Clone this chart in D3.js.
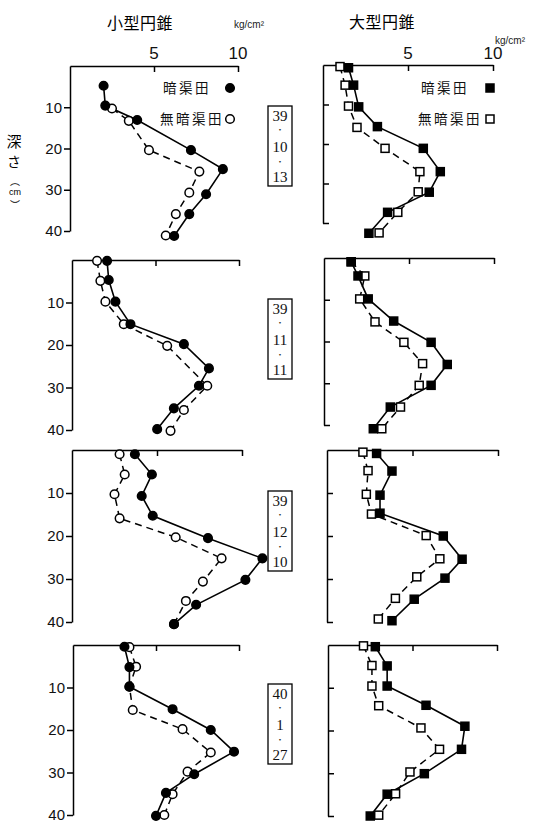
<!DOCTYPE html>
<html><head><meta charset="utf-8">
<script src="https://cdn.jsdelivr.net/npm/d3@7"></script>
<style>body{margin:0;background:#fff} svg{display:block}</style>
</head><body>
<svg id="c" width="543" height="826"></svg>
<script>
// ---------------- data ----------------
const columnTitles = ["小型円錐", "大型円錐"];
const unitLabel = "kg/cm²";
const seriesNames = ["暗渠田", "無暗渠田"];
const depthTicks = [10, 20, 30, 40];
const topTicks = [5, 10];
const topTickLabels = ["5", "10"];
const dateLabels = [["39", "10", "13"], ["39", "11", "11"], ["39", "12", "10"], ["40", "1", "27"]];
const yAxisLabel = ["深", "さ", "︵", "cm", "︶"];

// [value kg/cm², depth cm]
const small_1013_drained   = [[2.0,4.8],[2.1,9.6],[4.0,13.1],[7.2,20.4],[9.1,25.0],[8.1,31.1],[7.1,35.9],[6.2,41.2]];
const small_1013_undrained = [[2.5,10.3],[3.5,13.3],[4.7,20.4],[7.7,25.6],[7.1,30.7],[6.3,35.9],[5.7,41.1]];
const large_1013_drained   = [[1.5,0.7],[1.8,5.1],[2.1,10.6],[3.2,15.6],[5.9,21.1],[6.9,27.0],[6.25,32.2],[3.8,37.3],[2.7,42.6]];
const large_1013_undrained = [[1.0,0.4],[1.3,5.1],[1.5,10.4],[2.0,15.8],[3.65,21.1],[5.7,27.0],[5.6,32.1],[4.4,37.3],[3.3,42.5]];

const small_1111_drained   = [[2.1,0.2],[2.2,4.7],[2.6,9.8],[3.5,15.1],[6.7,19.8],[8.2,25.5],[7.6,29.6],[6.1,34.9],[5.1,39.8]];
const small_1111_undrained = [[1.5,0.2],[1.7,4.9],[2.0,9.8],[3.1,15.1],[5.7,20.2],[8.1,29.6],[6.7,35.3],[5.9,40.2]];
const large_1111_drained   = [[1.6,0.9],[2.0,4.3],[2.6,9.8],[4.1,15.1],[6.3,20.2],[7.25,25.5],[6.3,30.5],[3.9,35.7],[2.9,40.9]];
const large_1111_undrained = [[1.6,0.9],[2.4,4.3],[2.1,9.8],[3.0,15.3],[4.7,20.2],[5.8,25.3],[5.6,30.5],[4.5,35.7],[3.4,40.9]];

const small_1210_drained   = [[3.7,1.0],[4.7,5.7],[4.1,10.7],[4.75,15.3],[8.0,20.5],[11.2,25.2],[10.2,30.2],[7.3,36.0],[6.0,40.5]];
const small_1210_undrained = [[2.8,1.0],[3.1,5.7],[2.5,10.3],[2.8,15.9],[6.1,20.3],[8.8,25.2],[7.7,30.6],[6.7,35.1],[6.0,40.5]];
const large_1210_drained   = [[2.9,0.8],[3.8,4.9],[3.1,10.5],[3.1,14.7],[6.8,20.0],[7.9,25.4],[6.9,29.8],[5.1,34.7],[3.8,39.7]];
const large_1210_undrained = [[2.1,0.5],[2.4,4.8],[2.3,10.3],[2.6,14.9],[5.8,19.9],[6.6,25.3],[5.25,29.5],[4.0,34.5],[3.0,39.3]];

const small_0127_drained   = [[3.1,0.4],[3.4,5.2],[3.4,9.8],[6.0,15.1],[8.3,20.0],[9.7,25.1],[7.3,30.4],[5.6,34.8],[5.0,40.2]];
const small_0127_undrained = [[3.4,0.5],[3.8,5.1],[3.4,9.8],[3.6,15.3],[6.6,19.8],[8.3,25.3],[6.9,29.8],[6.0,35.1],[5.5,40.0]];
const large_0127_drained   = [[2.8,0.4],[3.5,4.9],[3.5,9.6],[5.8,14.1],[8.1,19.0],[7.9,24.4],[5.7,30.1],[3.5,34.9],[2.5,40.0]];
const large_0127_undrained = [[2.1,0.2],[2.6,4.8],[2.6,9.6],[3.0,14.2],[5.5,19.4],[6.6,24.4],[4.85,29.7],[4.0,34.8],[3.0,39.8]];

// ---------------- layout ----------------
const panels = [
  {row:0,col:0,x0:70, x10:238,y0:66, y40:231,a:small_1013_drained,n:small_1013_undrained},
  {row:0,col:1,x0:323,x10:493,y0:65, y40:223,a:large_1013_drained,n:large_1013_undrained},
  {row:1,col:0,x0:72, x10:239,y0:260,y40:430,a:small_1111_drained,n:small_1111_undrained},
  {row:1,col:1,x0:324,x10:494,y0:258,y40:425,a:large_1111_drained,n:large_1111_undrained},
  {row:2,col:0,x0:72, x10:242,y0:450,y40:622,a:small_1210_drained,n:small_1210_undrained},
  {row:2,col:1,x0:327,x10:498,y0:450,y40:622,a:large_1210_drained,n:large_1210_undrained},
  {row:3,col:0,x0:73, x10:239,y0:645,y40:815,a:small_0127_drained,n:small_0127_undrained},
  {row:3,col:1,x0:328,x10:497,y0:645,y40:816,a:large_0127_drained,n:large_0127_undrained}
];
const boxTops = [106, 299, 491, 684];

const svg = d3.select("#c");
const FONT = "'Liberation Sans', Arial, sans-serif";
const JP = "'Noto Sans CJK JP', sans-serif";
const SERIF = "'Liberation Serif', serif";

function marker(g, data, x, y, kind, filled) {
  const sel = g.selectAll(null).data(data).enter();
  if (kind === "circle") {
    sel.append("circle")
      .attr("cx", d => x(d[0])).attr("cy", d => y(d[1])).attr("r", 4.3)
      .attr("fill", filled ? "#000" : "#fff").attr("stroke", "#000").attr("stroke-width", 1.5);
  } else {
    const s = 8;
    sel.append("rect")
      .attr("x", d => x(d[0]) - s/2).attr("y", d => y(d[1]) - s/2)
      .attr("width", s).attr("height", s)
      .attr("fill", filled ? "#000" : "#fff").attr("stroke", "#000").attr("stroke-width", 1.5);
  }
}

panels.forEach(p => {
  const x = d3.scaleLinear().domain([0, 10]).range([p.x0, p.x10]);
  const y = d3.scaleLinear().domain([0, 40]).range([p.y0, p.y40]);
  const g = svg.append("g");

  // top axis
  const ax = g.append("g").attr("transform", `translate(0,${p.y0})`)
    .call(d3.axisTop(x).tickValues(topTicks).tickSizeInner(-6).tickSizeOuter(0).tickFormat(""));
  // left axis
  const ay = g.append("g").attr("transform", `translate(${p.x0},0)`);
  if (p.col === 0) {
    ay.call(d3.axisLeft(y).tickValues(depthTicks).tickSize(6).tickPadding(2).tickSizeOuter(0));
  } else {
    ay.call(d3.axisLeft(y).tickValues(depthTicks).tickSizeInner(-6).tickSizeOuter(0).tickFormat(""));
  }
  [ax, ay].forEach(a => {
    a.selectAll("path, line").attr("stroke", "#000").attr("stroke-width", 1.5);
    a.selectAll("text").attr("font-family", FONT).attr("font-size", 15).attr("fill", "#111");
  });

  const line = d3.line().x(d => x(d[0])).y(d => y(d[1]));
  g.append("path").datum(p.n).attr("d", line).attr("fill", "none")
    .attr("stroke", "#000").attr("stroke-width", 1.5).attr("stroke-dasharray", "7,5");
  g.append("path").datum(p.a).attr("d", line).attr("fill", "none")
    .attr("stroke", "#000").attr("stroke-width", 1.6);

  const kind = p.col === 0 ? "circle" : "square";
  marker(g, p.n, x, y, kind, false);
  marker(g, p.a, x, y, kind, true);

  if (p.row === 0) {
    // top tick labels
    topTicks.forEach((t, i) => {
      g.append("text").attr("x", x(t)).attr("y", 59).attr("text-anchor", "middle")
        .attr("font-family", FONT).attr("font-size", 17).attr("fill", "#111").text(topTickLabels[i]);
    });
    // legend
    const lx = p.col === 0 ? 160 : 418;
    const mx = p.col === 0 ? 230 : 490;
    [[88, 0, true], [119, 1, false]].forEach(([ly, si, filled]) => {
      g.append("text").attr("x", si === 0 ? lx + 3 : lx).attr("y", ly + 5)
        .attr("font-family", JP).attr("font-size", 13.5).attr("letter-spacing", 2.5)
        .attr("fill", "#111").text(seriesNames[si]);
      if (kind === "circle") {
        g.append("circle").attr("cx", mx).attr("cy", ly).attr("r", 4.3)
          .attr("fill", filled ? "#000" : "#fff").attr("stroke", "#000").attr("stroke-width", 1.5);
      } else {
        g.append("rect").attr("x", mx - 4).attr("y", ly - 4).attr("width", 8).attr("height", 8)
          .attr("fill", filled ? "#000" : "#fff").attr("stroke", "#000").attr("stroke-width", 1.5);
      }
    });
  }
});

// column titles and units
svg.append("text").attr("x", 140).attr("y", 29).attr("text-anchor", "middle")
  .attr("font-family", JP).attr("font-size", 16).attr("letter-spacing", 0.5).text(columnTitles[0]);
svg.append("text").attr("x", 382).attr("y", 28).attr("text-anchor", "middle")
  .attr("font-family", JP).attr("font-size", 16).attr("letter-spacing", 0.5).text(columnTitles[1]);
svg.append("text").attr("x", 249).attr("y", 28).attr("text-anchor", "middle")
  .attr("font-family", FONT).attr("font-size", 10).attr("fill", "#222").text(unitLabel);
svg.append("text").attr("x", 510).attr("y", 44).attr("text-anchor", "middle")
  .attr("font-family", FONT).attr("font-size", 10).attr("fill", "#222").text(unitLabel);

// y axis label (vertical)
const ylPos = [[14, 140, 15], [14, 161, 14], [15, 180, 10], [15, 192, 9], [15, 204, 10]];
yAxisLabel.forEach((t, i) => {
  svg.append("text").attr("x", ylPos[i][0]).attr("y", ylPos[i][1])
    .attr("text-anchor", "middle").attr("dominant-baseline", "central")
    .attr("font-family", i === 3 ? FONT : JP).attr("font-size", ylPos[i][2]).text(t);
});

// date boxes
dateLabels.forEach((lab, i) => {
  const top = boxTops[i];
  const g = svg.append("g");
  g.append("rect").attr("x", 268).attr("y", top).attr("width", 24).attr("height", 80)
    .attr("fill", "none").attr("stroke", "#000").attr("stroke-width", 1.3);
  const items = [[lab[0], 10], ["•", 24], [lab[1], 41], ["•", 56], [lab[2], 71]];
  items.forEach(([t, dy]) => {
    g.append("text").attr("x", 280).attr("y", top + dy)
      .attr("text-anchor", "middle").attr("dominant-baseline", "central")
      .attr("font-family", SERIF).attr("font-size", t === "•" ? 7 : 15).attr("fill", "#111").text(t);
  });
});
</script>
</body></html>
